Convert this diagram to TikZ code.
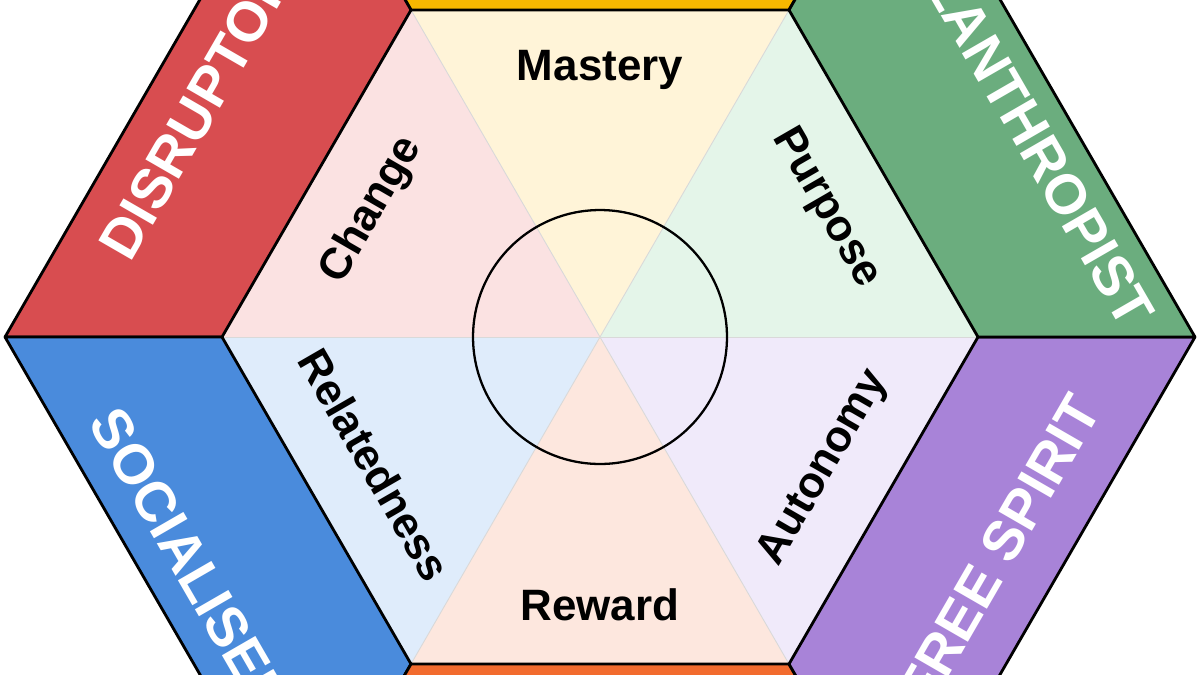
\documentclass[tikz,border=0pt]{standalone}
\usepackage{fontspec}
\setmainfont{Liberation Sans}
\definecolor{cRed}{HTML}{D84D50}
\definecolor{cGreen}{HTML}{6BAD7E}
\definecolor{cBlue}{HTML}{4A8BDC}
\definecolor{cPurple}{HTML}{A883D8}
\definecolor{cYellow}{HTML}{F7B800}
\definecolor{cOrange}{HTML}{F26B2E}
\definecolor{pYellow}{HTML}{FFF4D8}
\definecolor{pRed}{HTML}{FBE2E2}
\definecolor{pGreen}{HTML}{E4F5E9}
\definecolor{pBlue}{HTML}{DFECFB}
\definecolor{pPurple}{HTML}{F0EAFA}
\definecolor{pOrange}{HTML}{FDE7DE}
\begin{document}
\begin{tikzpicture}[x=0.02cm,y=-0.02cm,
  band/.style={draw=black,line width=1.6pt,line join=round},
  tri/.style={draw=black!15,line width=0.5pt},
  bandtext/.style={text=white,font=\fontsize{32}{34}\selectfont\bfseries,inner sep=0pt},
  innertext/.style={text=black,font=\fontsize{25}{27}\selectfont\bfseries,inner sep=0pt}]
\useasboundingbox (0,0) rectangle (1200,674);
\clip (0,0) rectangle (1200,674);
% coordinates
\coordinate (C) at (600,337);
\coordinate (i0) at (978,337);
\coordinate (i1) at (789,10);
\coordinate (i2) at (411,10);
\coordinate (i3) at (222,337);
\coordinate (i4) at (411,664);
\coordinate (i5) at (789,664);
\coordinate (o0) at (1195,337);
\coordinate (o1) at (897.5,-178);
\coordinate (o2) at (302.5,-178);
\coordinate (o3) at (5,337);
\coordinate (o4) at (302.5,852);
\coordinate (o5) at (897.5,852);
% inner triangles
\fill[pYellow] (C) -- (i1) -- (i2) -- cycle;
\fill[pRed] (C) -- (i2) -- (i3) -- cycle;
\fill[pBlue] (C) -- (i3) -- (i4) -- cycle;
\fill[pOrange] (C) -- (i4) -- (i5) -- cycle;
\fill[pPurple] (C) -- (i5) -- (i0) -- cycle;
\fill[pGreen] (C) -- (i0) -- (i1) -- cycle;
\foreach \k in {0,...,5} \draw[tri] (C) -- (i\k);
% bands
\draw[band,fill=cYellow] (i1) -- (o1) -- (o2) -- (i2) -- cycle;
\draw[band,fill=cRed] (i2) -- (o2) -- (o3) -- (i3) -- cycle;
\draw[band,fill=cBlue] (i3) -- (o3) -- (o4) -- (i4) -- cycle;
\draw[band,fill=cOrange] (i4) -- (o4) -- (o5) -- (i5) -- cycle;
\draw[band,fill=cPurple] (i5) -- (o5) -- (o0) -- (i0) -- cycle;
\draw[band,fill=cGreen] (i0) -- (o0) -- (o1) -- (i1) -- cycle;
% circle
\node[draw=black,line width=1.3pt,circle,inner sep=0pt,minimum size=5.08cm] (core) at (C) {};
% band texts
\node[bandtext,anchor=west,rotate=60] (disruptor) at (114,254) {DISRUPTOR};
\node[bandtext,anchor=east,rotate=-60] (phil) at (1140,322) {PHILANTHROPIST};
\node[bandtext,anchor=west,rotate=-60] (social) at (104,413) {SOCIALISER};
\node[bandtext,anchor=east,rotate=60] (free) at (1086,400) {FREE SPIRIT};
% inner texts
\node[innertext] (mastery) at (600,70) {Mastery};
\node[innertext] (reward) at (600,605) {Reward};
\node[innertext,rotate=60] (change) at (372,210) {Change};
\node[innertext,rotate=-60] (purpose) at (826,208) {Purpose};
\node[innertext,rotate=-60] (related) at (375,465) {Relatedness};
\node[innertext,rotate=60] (autonomy) at (824,468) {Autonomy};
\end{tikzpicture}
\end{document}
